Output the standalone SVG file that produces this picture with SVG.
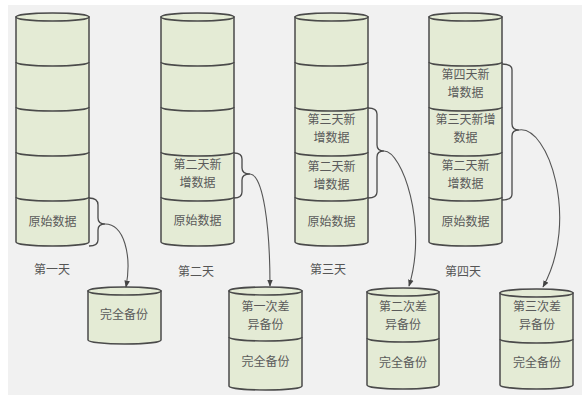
<svg xmlns="http://www.w3.org/2000/svg" width="582" height="403" viewBox="0 0 582 403">
<defs>
<style>
.cyl{fill:#e4ebd5;stroke:#4a4a4a;stroke-width:1.5}
.div{fill:none;stroke:#4a4a4a;stroke-width:1.5}
.brace{fill:none;stroke:#4a4a4a;stroke-width:1.3}
.conn{fill:none;stroke:#555;stroke-width:1.1}
.t{font-family:"Noto Sans CJK SC","Noto Sans CJK JP",sans-serif;font-size:12px;fill:#5a5a5a;text-anchor:middle}
.lbl{font-family:"Noto Sans CJK SC","Noto Sans CJK JP",sans-serif;font-size:12px;fill:#555;text-anchor:middle}
</style>
<marker id="ah" viewBox="0 0 10 10" refX="9" refY="5" markerWidth="7" markerHeight="7" orient="auto-start-reverse" markerUnits="userSpaceOnUse">
<path d="M0,1 L10,5 L0,9 z" fill="#444"/>
</marker>
</defs>
<rect x="0" y="0" width="582" height="403" fill="#ffffff"/>
<rect x="8" y="5" width="574" height="390" fill="#f1f1f1"/>

<g id="day1">
<path class="cyl" d="M16,17 L16,242 A36.5,4 0 0 0 89,242 L89,17 Z"/>
<ellipse class="cyl" cx="52.5" cy="17" rx="36.5" ry="4"/>
<path class="div" d="M16,62 A36.5,4 0 0 0 89,62 M16,107 A36.5,4 0 0 0 89,107 M16,152 A36.5,4 0 0 0 89,152 M16,197 A36.5,4 0 0 0 89,197"/>
<text class="t" x="52.5" y="226">原始数据</text>
<text class="lbl" x="52" y="274">第一天</text>
</g>

<g id="day2">
<path class="cyl" d="M161,17 L161,242 A36.5,4 0 0 0 234,242 L234,17 Z"/>
<ellipse class="cyl" cx="197.5" cy="17" rx="36.5" ry="4"/>
<path class="div" d="M161,62 A36.5,4 0 0 0 234,62 M161,107 A36.5,4 0 0 0 234,107 M161,152 A36.5,4 0 0 0 234,152 M161,197 A36.5,4 0 0 0 234,197"/>
<text class="t" x="197.5" y="169">第二天新</text>
<text class="t" x="197.5" y="187">增数据</text>
<text class="t" x="197.5" y="225">原始数据</text>
<text class="lbl" x="196" y="276">第二天</text>
</g>

<g id="day3">
<path class="cyl" d="M295,17 L295,242 A36.5,4 0 0 0 368,242 L368,17 Z"/>
<ellipse class="cyl" cx="331.5" cy="17" rx="36.5" ry="4"/>
<path class="div" d="M295,62 A36.5,4 0 0 0 368,62 M295,107 A36.5,4 0 0 0 368,107 M295,152 A36.5,4 0 0 0 368,152 M295,197 A36.5,4 0 0 0 368,197"/>
<text class="t" x="331.5" y="124">第三天新</text>
<text class="t" x="331.5" y="142">增数据</text>
<text class="t" x="331.5" y="171">第二天新</text>
<text class="t" x="331.5" y="189">增数据</text>
<text class="t" x="331.5" y="226">原始数据</text>
<text class="lbl" x="328" y="274">第三天</text>
</g>

<g id="day4">
<path class="cyl" d="M429,17 L429,242 A36.5,4 0 0 0 502,242 L502,17 Z"/>
<ellipse class="cyl" cx="465.5" cy="17" rx="36.5" ry="4"/>
<path class="div" d="M429,62 A36.5,4 0 0 0 502,62 M429,107 A36.5,4 0 0 0 502,107 M429,152 A36.5,4 0 0 0 502,152 M429,197 A36.5,4 0 0 0 502,197"/>
<text class="t" x="465.5" y="79">第四天新</text>
<text class="t" x="465.5" y="97">增数据</text>
<text class="t" x="465.5" y="124">第三天新增</text>
<text class="t" x="465.5" y="142">数据</text>
<text class="t" x="465.5" y="170">第二天新</text>
<text class="t" x="465.5" y="188">增数据</text>
<text class="t" x="465.5" y="226">原始数据</text>
<text class="lbl" x="463" y="276">第四天</text>
</g>

<g id="backup1">
<path class="cyl" d="M88,291 L88,340 A36.5,4 0 0 0 161,340 L161,291 Z"/>
<ellipse class="cyl" cx="124.5" cy="291" rx="36.5" ry="4"/>
<text class="t" x="124" y="319">完全备份</text>
</g>

<g id="backup2">
<path class="cyl" d="M229,291 L229,386 A36.5,4 0 0 0 302,386 L302,291 Z"/>
<ellipse class="cyl" cx="265.5" cy="291" rx="36.5" ry="4"/>
<path class="div" d="M229,337 A36.5,4 0 0 0 302,337"/>
<text class="t" x="265.5" y="311">第一次差</text>
<text class="t" x="265.5" y="329">异备份</text>
<text class="t" x="265.5" y="366">完全备份</text>
</g>

<g id="backup3">
<path class="cyl" d="M367,292 L367,385 A36,4 0 0 0 439,385 L439,292 Z"/>
<ellipse class="cyl" cx="403" cy="292" rx="36" ry="4"/>
<path class="div" d="M367,338 A36,4 0 0 0 439,338"/>
<text class="t" x="403" y="311">第二次差</text>
<text class="t" x="403" y="329">异备份</text>
<text class="t" x="403" y="367">完全备份</text>
</g>

<g id="backup4">
<path class="cyl" d="M500,293 L500,385 A36.5,4 0 0 0 573,385 L573,293 Z"/>
<ellipse class="cyl" cx="536.5" cy="293" rx="36.5" ry="4"/>
<path class="div" d="M500,339 A36.5,4 0 0 0 573,339"/>
<text class="t" x="537" y="311">第三次差</text>
<text class="t" x="537" y="329">异备份</text>
<text class="t" x="537" y="367">完全备份</text>
</g>

<g id="connectors">
<path class="brace" d="M89,198 Q98,198 98,205 L98,218 Q98,224 105,224 Q98,224 98,230 L98,240 Q98,246 89,246"/>
<path class="conn" d="M105,224 C124,224 132,255 126,287" marker-end="url(#ah)"/>
<path class="brace" d="M234,153 Q242,153 242,159 L242,168 Q242,174 250,174 Q242,174 242,180 L242,192 Q242,198 234,198"/>
<path class="conn" d="M250,174 C263,175 270,225 270,286" marker-end="url(#ah)"/>
<path class="brace" d="M368,108 Q377,108 377,114 L377,145 Q377,151 384,151 Q377,151 377,157 L377,192 Q377,198 368,198"/>
<path class="conn" d="M384,151 C402,151 428,225 409,286" marker-end="url(#ah)"/>
<path class="brace" d="M502,64 Q512,64 512,70 L512,124 Q512,130 519,130 Q512,130 512,136 L512,194 Q512,200 502,200"/>
<path class="conn" d="M519,130 C548,125 580,220 543,287" marker-end="url(#ah)"/>
</g>
</svg>
